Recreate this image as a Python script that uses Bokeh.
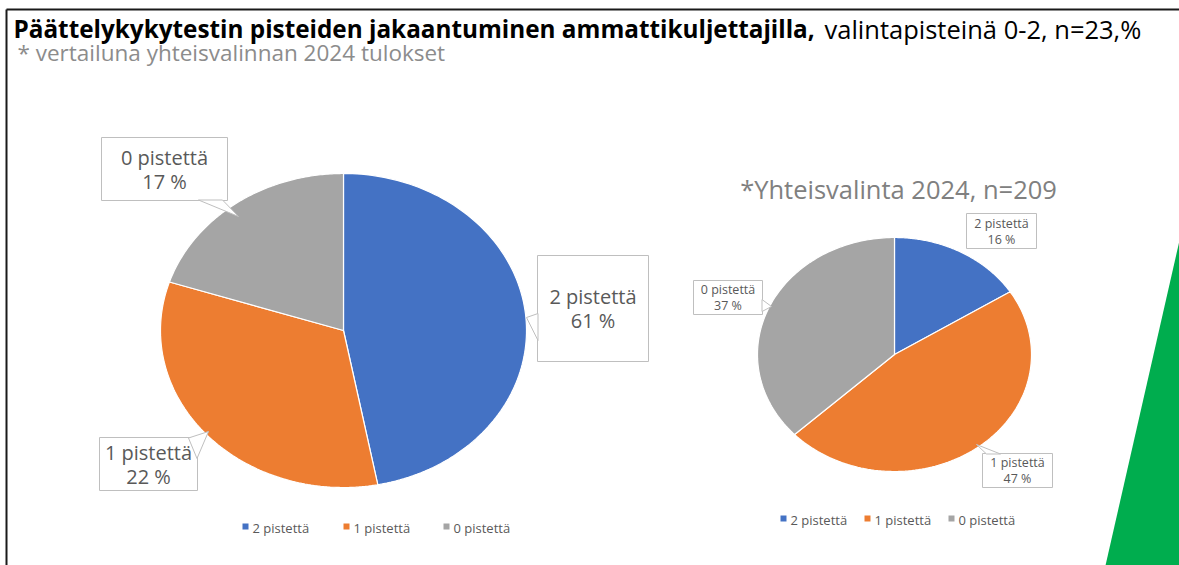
import numpy as np
from bokeh.plotting import figure
from bokeh.models import Range1d
from bokeh.core.properties import value
from bokeh.embed import file_html
from bokeh.resources import INLINE

# ---------------- data ----------------
categories = ["2 pistettä", "1 pistettä", "0 pistettä"]
colors = ["#4472C4", "#ED7D31", "#A5A5A5"]

# left pie (ammattikuljettajat, n=23): slice shares as drawn, label texts as printed
left_shares = [47, 33, 20]
left_labels = ["61 %", "22 %", "17 %"]

# right pie (Yhteisvalinta 2024, n=209)
right_shares = [16, 47, 37]
right_labels = ["16 %", "47 %", "37 %"]

title_bold = "Päättelykykytestin pisteiden jakaantuminen ammattikuljettajilla,"
title_rest = "valintapisteinä 0-2, n=23,%"
subtitle = "* vertailuna yhteisvalinnan 2024 tulokset"
right_title = "*Yhteisvalinta 2024, n=209"

FONT = value("Open Sans")
W, H = 1179, 565

p = figure(width=W, height=H, output_backend="svg", toolbar_location=None,
           x_range=Range1d(0, W), y_range=Range1d(H, 0),
           min_border=0)
p.axis.visible = False
p.grid.visible = False
p.outline_line_color = None
p.background_fill_color = "white"
p.border_fill_color = "white"


def pie_patches(shares, cx, cy, rx, ry):
    total = float(sum(shares))
    xs, ys = [], []
    start = 0.0
    for s in shares:
        end = start + s / total * 2 * np.pi
        t = np.linspace(start, end, 120)
        xs.append([cx] + list(cx + rx * np.sin(t)) + [cx])
        ys.append([cy] + list(cy - ry * np.cos(t)) + [cy])
        start = end
    return xs, ys


# frame lines
p.line([6, 6], [9, 565], line_color="#1a1a1a", line_width=2)
p.line([6, 1179], [9, 9], line_color="#1a1a1a", line_width=2)

# green decoration
p.patch([1179, 1105, 1179], [240, 565, 565], fill_color="#00AD4E", line_color=None)

# titles
p.text(x=[13], y=[28], text=[title_bold], text_font=FONT, text_font_style="bold",
       text_font_size="24.3px", text_color="#000000", text_baseline="middle")
p.text(x=[824], y=[28], text=[title_rest], text_font=FONT,
       text_font_size="25.5px", text_color="#000000", text_baseline="middle")
p.text(x=[17], y=[52], text=[subtitle], text_font=FONT,
       text_font_size="22.5px", text_color="#8C8C8C", text_baseline="middle")
p.text(x=[898], y=[188], text=[right_title], text_font=FONT,
       text_font_size="25.5px", text_color="#808080", text_baseline="middle",
       text_align="center")

# pies
lx, ly = pie_patches(left_shares, 343, 330, 183, 157)
p.patches(xs=lx, ys=ly, fill_color=colors, line_color="white", line_width=1.2)
rx_, ry_ = pie_patches(right_shares, 894, 354, 137, 117)
p.patches(xs=rx_, ys=ry_, fill_color=colors, line_color="white", line_width=1.2)

# callouts
BOX = "#BFBFBF"
TXT = "#595959"

def callout(l, r, t, b, tail, line1, line2, size, dy):
    p.quad(left=[l], right=[r], top=[t], bottom=[b], fill_color="white",
           line_color=BOX, line_width=1)
    if tail:
        p.patch([q[0] for q in tail], [q[1] for q in tail], fill_color="white",
                line_color=BOX, line_width=1)
    cx = (l + r) / 2
    cy = (t + b) / 2
    p.text(x=[cx, cx], y=[cy - dy, cy + dy], text=[line1, line2], text_font=FONT,
           text_font_size=size, text_color=TXT, text_align="center",
           text_baseline="middle")

# left pie callouts (order: 2,1,0)
callout(537, 648, 255, 361, [(537.5, 313), (526, 317), (537.5, 340)],
        categories[0], left_labels[0], "20px", 12)
callout(99, 197, 437, 490, [(188, 437.5), (208, 431), (196.5, 458)],
        categories[1], left_labels[1], "20px", 12)
callout(101, 227, 137, 200, [(198, 199.5), (222, 199.5), (238, 216)],
        categories[2], left_labels[2], "20px", 12)

# right pie callouts
callout(966, 1036, 213, 248, None, categories[0], right_labels[0], "12.5px", 8)
callout(982, 1052, 453, 487, [(986, 453.5), (976, 444), (1000, 453.5)],
        categories[1], right_labels[1], "12.5px", 8)
callout(693, 762, 280, 314, [(761.5, 299), (771, 306), (761.5, 311)],
        categories[2], right_labels[2], "12.5px", 8)

# legends
leg_left_x = [245, 346, 446]
leg_right_x = [783, 867, 951]
p.scatter(x=leg_left_x, y=[526] * 3, marker="square", size=6, fill_color=colors,
          line_color=None)
p.text(x=[v + 7 for v in leg_left_x], y=[527] * 3, text=categories, text_font=FONT,
       text_font_size="13px", text_color=TXT, text_baseline="middle")
p.scatter(x=leg_right_x, y=[518] * 3, marker="square", size=6, fill_color=colors,
          line_color=None)
p.text(x=[v + 7 for v in leg_right_x], y=[519] * 3, text=categories, text_font=FONT,
       text_font_size="13px", text_color=TXT, text_baseline="middle")

open("out.html", "w").write(file_html(p, INLINE))
